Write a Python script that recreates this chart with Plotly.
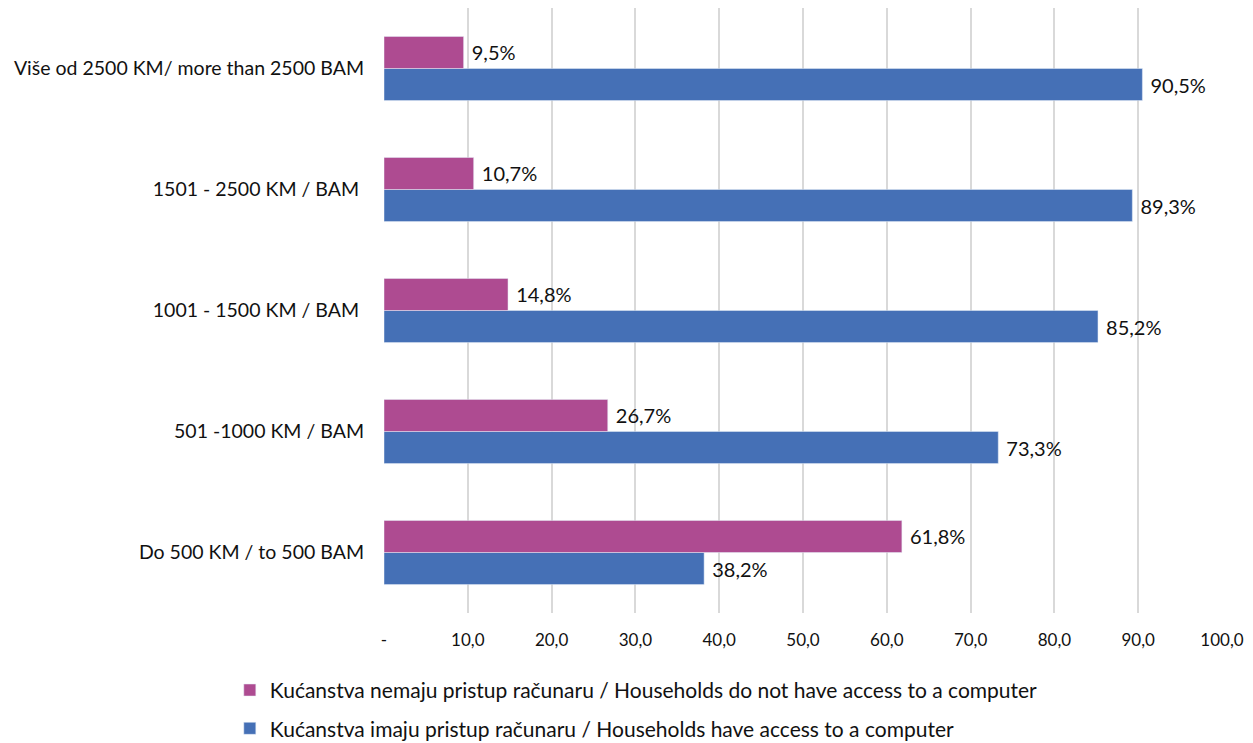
import plotly.graph_objects as go

categories = [
    "Do 500 KM / to 500 BAM",
    "501 -1000 KM / BAM",
    "1001 - 1500 KM / BAM ",
    "1501 - 2500 KM / BAM ",
    "Više od 2500 KM/ more than 2500 BAM",
]
no_access = [61.8, 26.7, 14.8, 10.7, 9.5]
has_access = [38.2, 73.3, 85.2, 89.3, 90.5]
tick_vals = [0, 10, 20, 30, 40, 50, 60, 70, 80, 90, 100]
tick_text = ["-", "10,0", "20,0", "30,0", "40,0", "50,0", "60,0", "70,0", "80,0", "90,0", "100,0"]

name_no = "Kućanstva nemaju pristup računaru / Households do not have access to a computer"
name_yes = "Kućanstva imaju pristup računaru / Households have access to a computer"

def fmt(v):
    return f"{v:.1f}".replace(".", ",") + "%"

FONT = "Lato"
INK = "#111111"

fig = go.Figure()
fig.add_trace(go.Bar(
    y=categories, x=has_access, orientation="h", name=name_yes,
    marker=dict(color="#4570B6"), legendgroup="b", legendrank=2,
    text=[fmt(v) for v in has_access], texttemplate=" %{text}", textposition="outside",
    textfont=dict(family=FONT, size=20, color=INK), cliponaxis=False,
))
fig.add_trace(go.Bar(
    y=categories, x=no_access, orientation="h", name=name_no,
    marker=dict(color="#AE4B91"), legendgroup="a", legendrank=1,
    text=[fmt(v) for v in no_access], texttemplate=" %{text}", textposition="outside",
    textfont=dict(family=FONT, size=20, color=INK), cliponaxis=False,
))

fig.update_layout(
    width=1245, height=735,
    margin=dict(l=376, r=31, t=0, b=130, pad=0, autoexpand=False),
    paper_bgcolor="white", plot_bgcolor="white",
    barmode="group", bargap=0.47, bargroupgap=0,
    font=dict(family=FONT, size=19, color=INK),
    showlegend=True,
    legend=dict(
        orientation="v", x=-0.184, xanchor="left", y=-0.094, yanchor="top",
        font=dict(family=FONT, size=21, color=INK),
        tracegroupgap=8, itemwidth=30,
    ),
    xaxis=dict(
        range=[0, 100], tickvals=tick_vals, ticktext=tick_text,
        showgrid=True, gridcolor="#D9D9D9", gridwidth=1.5,
        zeroline=False, showline=False, ticks="", ticklabelstandoff=15,
        automargin=False,
        tickfont=dict(family=FONT, size=17, color=INK),
    ),
    yaxis=dict(
        categoryorder="array", categoryarray=categories,
        showgrid=False, zeroline=False, showline=False, ticks="",
        ticklabelstandoff=19, automargin=False,
        tickfont=dict(family=FONT, size=19.5, color=INK),
    ),
)

fig.write_html("out.html")
